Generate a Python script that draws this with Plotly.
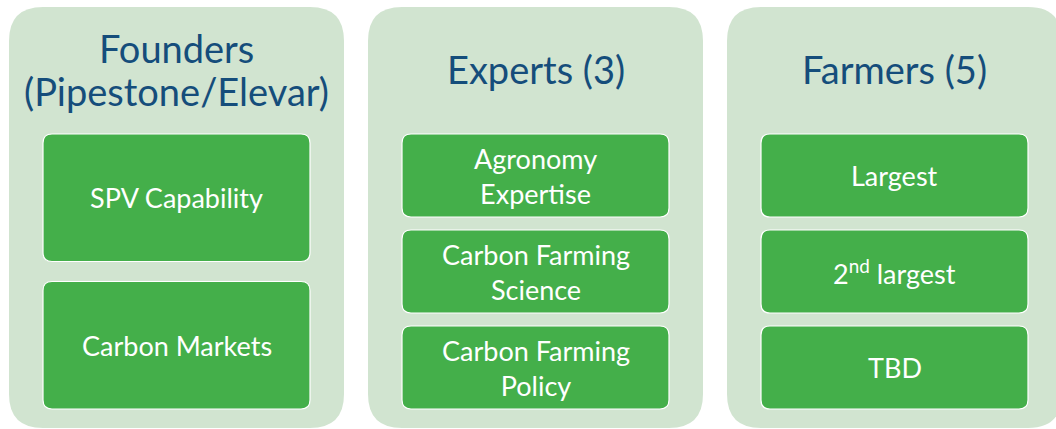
import plotly.graph_objects as go

# group headings (one per column)
groups = ["Founders<br>(Pipestone/Elevar)", "Experts (3)", "Farmers (5)"]

# boxes inside each column
founders_items = ["SPV Capability", "Carbon Markets"]
experts_items = ["Agronomy<br>Expertise", "Carbon Farming<br>Science", "Carbon Farming<br>Policy"]
farmers_items = ["Largest", "2<sup>nd</sup> largest", "TBD"]

items = [founders_items, experts_items, farmers_items]

W, H = 1056, 429
OUTER_BG = "#D1E4D0"
INNER_BG = "#44AF4A"
TITLE_COL = "#154D7B"
FONT = "Lato"


def rounded(x0, y0, x1, y1, r):
    # svg path for a rounded rectangle (y grows downward)
    return (f"M {x0 + r},{y0} L {x1 - r},{y0} Q {x1},{y0} {x1},{y0 + r} "
            f"L {x1},{y1 - r} Q {x1},{y1} {x1 - r},{y1} "
            f"L {x0 + r},{y1} Q {x0},{y1} {x0},{y1 - r} "
            f"L {x0},{y0 + r} Q {x0},{y0} {x0 + r},{y0} Z")


fig = go.Figure()
shapes = []
annotations = []

col_w = 335
col_step = 359
col_top, col_bottom = 7, 428
pad = 34
box_top, box_bottom = 134, 409
title_mid = 69
title_lh = 43

for i, (title, boxes) in enumerate(zip(groups, items)):
    cx0 = 9 + i * col_step
    cx1 = cx0 + col_w
    shapes.append(dict(type="path", path=rounded(cx0, col_top, cx1, col_bottom, 34),
                       fillcolor=OUTER_BG, line=dict(width=0), layer="below"))
    lines = title.split("<br>")
    for k, line in enumerate(lines):
        ty = title_mid + (k - (len(lines) - 1) / 2) * title_lh
        annotations.append(dict(x=(cx0 + cx1) / 2, y=ty, text=line, showarrow=False,
                                font=dict(family=FONT, size=38, color=TITLE_COL),
                                xanchor="center", yanchor="middle"))
    n = len(boxes)
    gap = 20 if n == 2 else 13
    bh = (box_bottom - box_top - gap * (n - 1)) / n
    for j, label in enumerate(boxes):
        bx0 = cx0 + pad
        bx1 = cx1 - pad
        by0 = box_top + j * (bh + gap)
        by1 = by0 + bh
        shapes.append(dict(type="path", path=rounded(bx0, by0, bx1, by1, 9),
                           fillcolor=INNER_BG, line=dict(width=1.2, color="white")))
        annotations.append(dict(x=(bx0 + bx1) / 2, y=(by0 + by1) / 2, text=label,
                                showarrow=False,
                                font=dict(family=FONT, size=27, color="white"),
                                xanchor="center", yanchor="middle"))

fig.update_layout(
    width=W, height=H,
    margin=dict(l=0, r=0, t=0, b=0),
    paper_bgcolor="white", plot_bgcolor="white",
    xaxis=dict(range=[0, W], visible=False, fixedrange=True),
    yaxis=dict(range=[H, 0], visible=False, fixedrange=True),
    shapes=shapes, annotations=annotations,
    showlegend=False,
)

fig.write_html("out.html", config={"displayModeBar": False},
               post_script="document.body.style.margin='0';"
                           "document.body.style.overflow='hidden';")
